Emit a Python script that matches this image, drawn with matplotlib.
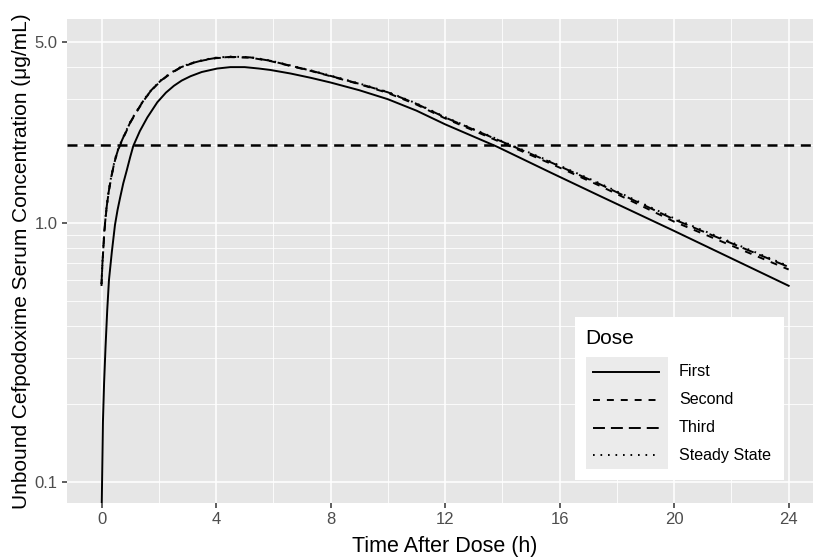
import matplotlib
matplotlib.use("Agg")
import matplotlib.pyplot as plt
from matplotlib.patches import Rectangle
from matplotlib.lines import Line2D

plt.rcParams['font.family'] = ['Liberation Sans', 'DejaVu Sans']
plt.rcParams['lines.scale_dashes'] = False

# First dose profile
t_first = [0.0, 0.02, 0.05, 0.09, 0.14, 0.2, 0.26, 0.36, 0.47, 0.56, 0.65, 0.76,
           0.88, 1.0, 1.11, 1.34, 1.6, 1.95, 2.25, 2.53, 2.8, 3.11, 3.5, 4.04,
           4.5, 5.0, 5.5, 5.9, 6.6, 7.3, 8.0, 9.0, 10.0, 11.0, 12.0, 13.8,
           15.7, 17.4, 20.0, 24.0]
c_first = [0.07, 0.10, 0.17, 0.24, 0.33, 0.46, 0.60, 0.77, 0.98, 1.12, 1.25, 1.42,
           1.59, 1.79, 1.98, 2.26, 2.55, 2.92, 3.18, 3.38, 3.54, 3.68, 3.82, 3.94,
           3.99, 3.99, 3.94, 3.89, 3.77, 3.63, 3.48, 3.25, 3.00, 2.71, 2.40, 1.97,
           1.56, 1.27, 0.93, 0.571]

# Later doses (nearly overlapping curves)
t_later = [0.0, 0.03, 0.1, 0.16, 0.22, 0.29, 0.36, 0.47, 0.59, 0.73, 0.88, 1.01,
           1.2, 1.48, 1.75, 2.06, 2.4, 2.76, 3.15, 3.57, 4.0, 4.5, 5.2, 5.9,
           6.6, 7.3, 8.0, 9.0, 10.0, 11.0, 12.0, 14.2, 15.7, 17.4, 20.0, 24.0]
c_second = [0.57, 0.69, 0.92, 1.09, 1.24, 1.39, 1.53, 1.74, 1.92, 2.09, 2.27, 2.44,
            2.65, 2.97, 3.25, 3.52, 3.76, 3.97, 4.12, 4.24, 4.32, 4.36, 4.34, 4.21,
            4.03, 3.86, 3.68, 3.43, 3.17, 2.86, 2.53, 1.99, 1.69, 1.39, 1.01, 0.66]
c_third = [0.58, 0.69, 0.93, 1.10, 1.25, 1.40, 1.54, 1.75, 1.93, 2.10, 2.28, 2.45,
           2.66, 2.98, 3.26, 3.53, 3.77, 3.98, 4.13, 4.25, 4.33, 4.37, 4.35, 4.22,
           4.04, 3.87, 3.69, 3.44, 3.19, 2.88, 2.55, 2.01, 1.71, 1.41, 1.03, 0.675]
c_steady = [0.58, 0.70, 0.94, 1.11, 1.26, 1.41, 1.55, 1.76, 1.94, 2.11, 2.29, 2.46,
            2.67, 2.99, 3.27, 3.54, 3.78, 3.99, 4.14, 4.26, 4.34, 4.38, 4.36, 4.23,
            4.05, 3.88, 3.70, 3.45, 3.20, 2.89, 2.56, 2.02, 1.72, 1.42, 1.04, 0.68]

threshold = 2.0
dose_labels = ['First', 'Second', 'Third', 'Steady State']

W, H = 813, 558
PANEL = '#E6E6E6'

fig = plt.figure(figsize=(W / 100, H / 100), dpi=100)
ax = fig.add_axes([67 / W, 1 - 503 / H, 1 - 67 / W, (503 - 19) / H])
ax.set_facecolor(PANEL)
for s in ax.spines.values():
    s.set_visible(False)

styles = [dict(linestyle='-'),
          dict(linestyle=(0, (5.0, 5.0))),
          dict(linestyle=(0, (8.6, 4.3))),
          dict(linestyle=(0, (1.2, 4.2)))]
series = [(t_first, c_first), (t_later, c_second), (t_later, c_third), (t_later, c_steady)]
for (t, c), st, lab in zip(series, styles, dose_labels):
    ax.plot(t, c, color='black', lw=1.4, label=lab, **st, zorder=3)

ax.axhline(threshold, color='black', lw=1.8, linestyle=(0, (7.2, 4.8)), zorder=2)

ax.set_yscale('log')
ax.set_xlim(-1.205, 24.85)
ax.set_ylim(0.0828, 6.12)

ax.set_xticks([0, 4, 8, 12, 16, 20, 24])
ax.set_xticks([2, 6, 10, 14, 18, 22], minor=True)
ax.set_yticks([0.1, 1.0, 5.0])
ax.set_yticklabels(['0.1', '1.0', '5.0'])
ax.set_yticks([0.2, 0.3, 0.4, 0.5, 0.6, 0.7, 0.8, 0.9, 2, 3, 4], minor=True)
ax.yaxis.set_minor_formatter(plt.NullFormatter())

ax.grid(which='major', color='white', lw=1.1, zorder=0)
ax.grid(which='minor', color='white', lw=0.6, zorder=0)
ax.set_axisbelow(True)
ax.tick_params(which='major', length=3.6, width=1.1, color='#333333',
               labelsize=12, labelcolor='#4D4D4D', pad=3)
ax.tick_params(which='minor', length=0)

# axis titles placed in pixels, sized to the reference widths
xl = fig.text(444.5 / W, 1 - 551.7 / H, 'Time After Dose (h)', fontsize=14.5,
              ha='center', va='baseline')
yl = fig.text(26 / W, 1 - 261 / H,
              'Unbound Cefpodoxime Serum Concentration (\u03bcg/mL)',
              fontsize=14.5, rotation=90, ha='right', va='center', rotation_mode='anchor')
fig.canvas.draw()
r = fig.canvas.get_renderer()
xl.set_fontsize(14.5 * 186 / xl.get_window_extent(r).width)
yl.set_fontsize(14.5 * 495 / yl.get_window_extent(r).height)
yl.set_position((27 / W, 1 - 261 / H))
yl.set_va('baseline')
yl.set_ha('center')


def px(x, y):
    return x / W, 1 - y / H


# legend drawn in pixel coordinates
x0, y0 = px(575, 480)
x1, y1 = px(784, 316.7)
fig.patches.append(Rectangle((x0, y0), x1 - x0, y1 - y0, transform=fig.transFigure,
                             facecolor='white', edgecolor='none', zorder=5))
kx0, ky0 = px(586, 469)
kx1, ky1 = px(668, 357)
fig.patches.append(Rectangle((kx0, ky0), kx1 - kx0, ky1 - ky0, transform=fig.transFigure,
                             facecolor='#EBEBEB', edgecolor='none', zorder=6))
tx, ty = px(585, 338)
fig.text(tx, ty, 'Dose', fontsize=15, va='center', ha='left', zorder=7)
for i, (lab, st) in enumerate(zip(dose_labels, styles)):
    yy = 372 + i * 27.8
    lx0, ly = px(593, yy)
    lx1, _ = px(659, yy)
    fig.lines.append(Line2D([lx0, lx1], [ly, ly], transform=fig.transFigure,
                            color='black', lw=1.4, zorder=7, **st))
    lbx, lby = px(679, yy)
    fig.text(lbx, lby, lab, fontsize=11.6, va='center', ha='left', zorder=7)

fig.savefig('out.png', dpi=100)
